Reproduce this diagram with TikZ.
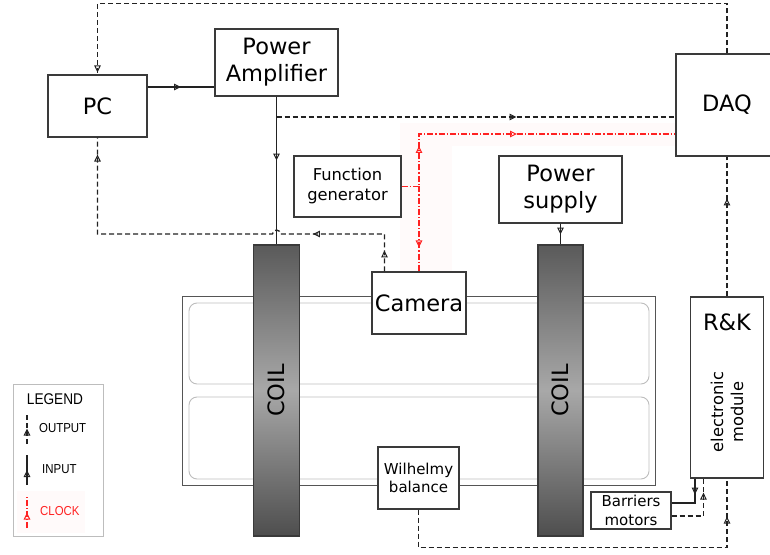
\documentclass[tikz,border=0pt]{standalone}
\usepackage{fontspec}
\setmainfont{DejaVu Sans}
\newfontfamily\legfont[FakeStretch=0.88]{Liberation Sans}
\usetikzlibrary{arrows.meta,decorations.markings,calc}
\definecolor{boxc}{HTML}{3A3A3A}
\definecolor{linec}{HTML}{222222}
\definecolor{clk}{HTML}{FF2222}
\definecolor{pinkbg}{HTML}{FFFAFA}
\definecolor{coilA}{HTML}{5A5A5A}
\definecolor{coilB}{HTML}{A8A8A8}
\definecolor{coilC}{HTML}{4E4E4E}
\definecolor{troughc}{HTML}{555555}
\definecolor{innerc}{HTML}{BDBDBD}
\definecolor{legc}{HTML}{BDBDBD}
\tikzset{oa/.tip={Triangle[open,length=7pt,width=6.5pt,line width=1pt]}}
\begin{document}
\begin{tikzpicture}[x=1pt,y=1pt,
  box/.style={draw=boxc,line width=1.1pt,fill=white,inner sep=0pt,align=center},
  big/.style={font=\fontsize{22.5}{27}\selectfont},
  midf/.style={font=\fontsize{16.3}{20}\selectfont},
  smallf/.style={font=\fontsize{15}{18.5}\selectfont},
  coilbox/.style={draw=boxc,line width=1.1pt,top color=coilA,bottom color=coilC,middle color=coilB,inner sep=0pt},
  wire/.style={draw=linec,line width=1.3pt},
  outd/.style={wire,dash pattern=on 5pt off 3pt},
  inp/.style={wire},
  clock/.style={draw=clk,line width=1.3pt,dash pattern=on 6pt off 2pt on 1.2pt off 2pt},
  marks/.style={postaction={decorate},decoration={markings,#1}}
]
\useasboundingbox (0,0) rectangle (770,554);

% clock background
\fill[pinkbg] (400,282) rectangle (452,431);
\fill[pinkbg] (400,408) rectangle (676,431);

% trough
\draw[draw=troughc,line width=1pt] (182,69) rectangle (655,257);
\draw[draw=innerc,line width=0.9pt,rounded corners=8pt] (189,170) rectangle (649,251);
\draw[draw=innerc,line width=0.9pt,rounded corners=8pt] (189,75) rectangle (649,157);

% nodes
\node[box,big,minimum width=99,minimum height=62] (pc) at (97.5,448) {PC};
\node[box,big,minimum width=123,minimum height=67] (pa) at (276.5,491.5) {Power\\Amplifier};
\node[box,big,minimum width=102,minimum height=102] (daq) at (727,449) {DAQ};
\node[box,midf,minimum width=107,minimum height=61] (fg) at (347.5,367.5) {Function\\generator};
\node[box,big,minimum width=123,minimum height=67] (ps) at (560.5,364.5) {Power\\supply};
\node[coilbox,minimum width=46,minimum height=291] (coilL) at (276.5,163.5) {};
\node[big,rotate=90] (coilLt) at (coilL) {COIL};
\node[coilbox,minimum width=45,minimum height=291] (coilR) at (560.5,163.5) {};
\node[big,rotate=90] (coilRt) at (coilR) {COIL};
\node[box,big,minimum width=94,minimum height=62] (cam) at (419,251) {Camera};
\node[box,smallf,minimum width=81,minimum height=62] (wb) at (418.5,76) {Wilhelmy\\balance};
\node[box,minimum width=73,minimum height=181] (rk) at (727,166.5) {};
\node[big] (rkt) at (727,232) {R\&K};
\node[midf,rotate=90,align=center] (rke) at (727,142) {electronic\\module};
\node[box,smallf,minimum width=80,minimum height=37] (bm) at (631,43.5) {Barriers\\motors};

% legend
\draw[draw=legc,line width=1pt] (13,18) rectangle (103,169);
\fill[pinkbg] (17,21) rectangle (85,63);
\node[font=\legfont\fontsize{15.5}{18}\selectfont] (legt) at (55,155) {LEGEND};
\coordinate (lo1) at (27,110); \coordinate (lo2) at (27,141);
\coordinate (li1) at (27,69);  \coordinate (li2) at (27,99);
\coordinate (lc1) at (27,26);  \coordinate (lc2) at (27,57);
\draw[outd,line width=1.1pt,marks={mark=at position 0.5 with {\arrow{oa}}}] (lo1) -- (lo2);
\draw[inp,line width=1.1pt,marks={mark=at position 0.5 with {\arrow{oa}}}] (li1) -- (li2);
\draw[clock,line width=1.1pt,marks={mark=at position 0.5 with {\arrow{oa}}}] (lc1) -- (lc2);
\node[anchor=west,inner sep=0pt,font=\legfont\fontsize{13}{15}\selectfont] (lot) at (39,126) {OUTPUT};
\node[anchor=west,inner sep=0pt,font=\legfont\fontsize{13}{15}\selectfont] (lit) at (42,85) {INPUT};
\node[anchor=west,inner sep=0pt,font=\legfont\fontsize{13}{15}\selectfont,text=clk] (lct) at (40,43) {CLOCK};

% helper coordinates
\coordinate (tap) at (276.5,437);
\coordinate (clkj) at (419,367.5);
\coordinate (clkc) at (419,420);
\coordinate (hop) at (276.5,320);
\coordinate (pcout) at ($(pc.east)+(0,19)$);
\coordinate (camout) at ($(cam.north west)+(13,0)$);
\coordinate (rkin) at ($(rk.south west)+(5,0)$);
\coordinate (bmin) at ($(bm.east)+(0,7.5)$);
\coordinate (bmout) at ($(bm.east)+(0,-5.5)$);
\coordinate (rkout) at ($(rk.south west)+(13.5,0)$);

% connectors
\draw[outd,marks={mark=at position -2pt with {\arrow{oa}}}] (daq.north) -- ++(0,50) -| (pc.north);
\draw[inp,marks={mark=at position 0.5 with {\arrow{oa}}}] (pcout) -- (pcout -| pa.west);
\draw[inp,marks={mark=at position 64pt with {\arrow{oa}}}] (pa.south) -- (coilL.north);
\draw[outd,marks={mark=at position 240pt with {\arrow{oa}}}] (tap) -- (tap -| daq.west);
\draw[clock,marks={mark=at position 58pt with {\arrow{oa}}, mark=at position 168pt with {\arrow{oa}}}] (fg.east) -- (clkj) -- (clkc) -- (clkc -| daq.west);
\draw[clock,marks={mark=at position 61pt with {\arrow{oa}}}] (clkj) -- (clkj |- cam.north);
\draw[outd,marks={mark=at position 21pt with {\arrow{oa}}, mark=at position 109pt with {\arrow{oa}}, mark=at position -17pt with {\arrow{oa}}}]
  (camout) -- (camout |- hop) -- ($(hop)+(4,0)$) arc[start angle=0,end angle=180,radius=4pt] -- (hop -| pc.south) -- (pc.south);
\draw[inp,marks={mark=at position 11pt with {\arrow{oa}}}] (ps.south) -- (coilR.north);
\draw[outd,marks={mark=at position 98pt with {\arrow{oa}}}] (rk.north) -- (daq.south);
\draw[outd,marks={mark=at position -38pt with {\arrow{oa}}}] (wb.south) -- ++(0,-38) -| (rk.south);
\draw[inp,marks={mark=at position 16pt with {\arrow{oa}}}] (rkin) |- (bmin);
\draw[outd,marks={mark=at position -14pt with {\arrow{oa}}}] (bmout) -| (rkout);
\end{tikzpicture}
\end{document}
